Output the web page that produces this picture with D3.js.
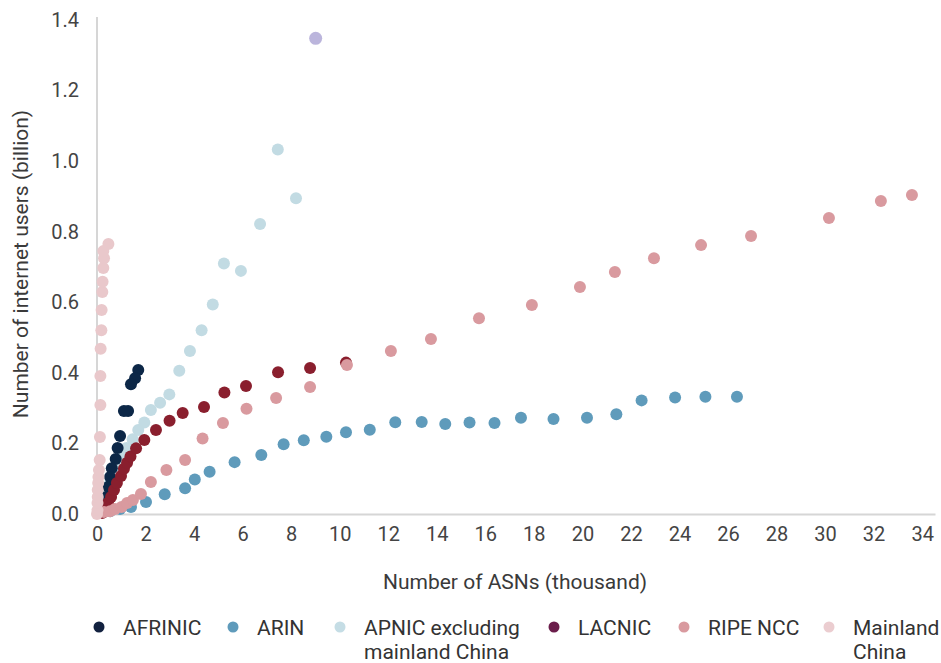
<!DOCTYPE html>
<html>
<head>
<meta charset="utf-8">
<script src="https://cdn.jsdelivr.net/npm/d3@7"></script>
<style>
  html, body { margin: 0; padding: 0; background: #fff; }
  text { font-family: Roboto, "Noto Sans", sans-serif; }
</style>
</head>
<body>
<div class="svg-container"></div>
<script>
// data: [ASNs (thousand), internet users (billion)]
const afrinic = [[1.70,0.408],[1.57,0.385],[1.40,0.368],[1.28,0.292],[1.11,0.292],[0.95,0.221],[0.85,0.187],[0.77,0.156],[0.61,0.130],[0.54,0.105],[0.47,0.077],[0.37,0.048],[0.25,0.026],[0.12,0.011]];
const arin = [[0.25,0.006],[0.54,0.008],[0.95,0.014],[1.40,0.020],[2.02,0.034],[2.79,0.056],[3.63,0.073],[4.03,0.098],[4.64,0.120],[5.67,0.147],[6.77,0.167],[7.69,0.198],[8.52,0.209],[9.45,0.219],[10.26,0.232],[11.24,0.239],[12.29,0.260],[13.38,0.261],[14.35,0.255],[15.35,0.259],[16.38,0.258],[17.47,0.273],[18.81,0.269],[20.19,0.273],[21.40,0.283],[22.44,0.322],[23.82,0.330],[25.07,0.332],[26.37,0.332]];
const apnic = [[0.12,0.011],[0.25,0.031],[0.40,0.060],[0.54,0.088],[0.67,0.106],[0.81,0.139],[1.02,0.162],[1.22,0.187],[1.47,0.212],[1.70,0.238],[1.95,0.259],[2.22,0.295],[2.60,0.315],[2.98,0.339],[3.39,0.406],[3.83,0.462],[4.31,0.521],[4.77,0.594],[5.93,0.689],[5.23,0.710],[6.72,0.822],[8.20,0.895],[7.45,1.033]];
const lacnic = [[0.21,0.003],[0.33,0.014],[0.45,0.031],[0.58,0.048],[0.70,0.068],[0.82,0.088],[0.99,0.108],[1.11,0.128],[1.24,0.145],[1.38,0.163],[1.61,0.186],[1.95,0.210],[2.43,0.238],[2.99,0.264],[3.53,0.286],[4.41,0.303],[5.25,0.344],[6.14,0.363],[7.46,0.402],[8.78,0.414],[10.26,0.429]];
const ripe = [[0.29,0.006],[0.54,0.008],[0.74,0.014],[1.01,0.020],[1.24,0.031],[1.48,0.040],[1.81,0.057],[2.22,0.091],[2.86,0.125],[3.63,0.153],[4.35,0.214],[5.19,0.258],[6.16,0.298],[7.38,0.329],[8.78,0.360],[10.30,0.422],[12.11,0.462],[13.76,0.496],[15.74,0.555],[17.92,0.592],[19.90,0.643],[21.34,0.686],[22.95,0.725],[24.89,0.762],[26.95,0.788],[30.16,0.839],[32.30,0.887],[33.58,0.904]];
const mainland = [[0.0,0.0],[0.02,0.011],[0.02,0.031],[0.03,0.048],[0.03,0.068],[0.05,0.088],[0.06,0.105],[0.08,0.125],[0.11,0.153],[0.12,0.218],[0.14,0.309],[0.14,0.391],[0.15,0.468],[0.18,0.521],[0.19,0.578],[0.22,0.629],[0.23,0.658],[0.26,0.697],[0.29,0.725],[0.26,0.745],[0.47,0.765]];
const extraPoint = [[9.01,1.348]];

const xTicks = [0,2,4,6,8,10,12,14,16,18,20,22,24,26,28,30,32,34];
const yTicks = [0.0,0.2,0.4,0.6,0.8,1.0,1.2,1.4];

const seriesNames = ["AFRINIC", "ARIN", "APNIC excluding mainland China", "LACNIC", "RIPE NCC", "Mainland China"];
const legendLines = [["AFRINIC"], ["ARIN"], ["APNIC excluding", "mainland China"], ["LACNIC"], ["RIPE NCC"], ["Mainland", "China"]];

const width = 941;
const height = 663;

const svg = d3
  .select(".svg-container")
  .append("svg")
  .attr("width", width)
  .attr("height", height);

// scales
const xScale = d3.scaleLinear().domain([0, 34.53]).range([97, 935]);
const yScale = d3.scaleLinear().domain([0, 1.4]).range([514, 20]);

// y axis
const yAxis = svg
  .append("g")
  .attr("transform", "translate(97,0)")
  .call(
    d3.axisLeft(yScale)
      .tickValues(yTicks)
      .tickSize(0)
      .tickPadding(18)
      .tickFormat(d3.format(".1f"))
  );
yAxis.select(".domain").attr("stroke", "#d6d6d6").attr("stroke-width", 2)
  .attr("d", `M0,${yScale(0)}V17`);
yAxis.selectAll("text").attr("fill", "#444").attr("font-size", 20)
  .attr("font-family", "Roboto, sans-serif");

// x axis
const xAxis = svg
  .append("g")
  .attr("transform", `translate(0,${yScale(0)})`)
  .call(
    d3.axisBottom(xScale)
      .tickValues(xTicks)
      .tickSize(0)
      .tickPadding(13)
      .tickFormat(d3.format("d"))
  );
xAxis.select(".domain").attr("stroke", "#d6d6d6").attr("stroke-width", 2);
xAxis.selectAll("text").attr("fill", "#444").attr("font-size", 20)
  .attr("font-family", "Roboto, sans-serif");

// axis titles
svg
  .append("text")
  .attr("x", 515)
  .attr("y", 589)
  .attr("text-anchor", "middle")
  .attr("font-size", 21)
  .attr("fill", "#3a3a3a")
  .text("Number of ASNs (thousand)");

svg
  .append("text")
  .attr("transform", "translate(28,264) rotate(-90)")
  .attr("text-anchor", "middle")
  .attr("font-size", 21)
  .attr("fill", "#3a3a3a")
  .text("Number of internet users (billion)");

// points, drawn in stacking order
const layers = [
  { data: arin, color: "#5f9bbb", r: 6 },
  { data: apnic, color: "#c2dbe3", r: 6 },
  { data: afrinic, color: "#0c2747", r: 6 },
  { data: lacnic, color: "#8a1f2e", r: 6 },
  { data: ripe, color: "#d99a9f", r: 6 },
  { data: mainland, color: "#e9c8cb", r: 6 },
  { data: extraPoint, color: "#bbb5dc", r: 6.5 },
];

layers.forEach((layer) => {
  svg
    .append("g")
    .selectAll("circle")
    .data(layer.data)
    .enter()
    .append("circle")
    .attr("cx", (d) => xScale(d[0]))
    .attr("cy", (d) => yScale(d[1]))
    .attr("r", layer.r)
    .attr("fill", layer.color);
});

// legend
const legendColors = ["#12213f", "#5f9bbb", "#c5dde5", "#6b1e4b", "#d99a9f", "#ebcdd0"];
const legendX = [99, 233, 340, 554, 684, 829];
const legend = svg
  .append("g")
  .selectAll("g")
  .data(seriesNames)
  .enter()
  .append("g")
  .attr("transform", (d, i) => `translate(${legendX[i]},627)`);

legend
  .append("circle")
  .attr("r", 5.5)
  .attr("fill", (d, i) => legendColors[i]);

legend
  .append("text")
  .attr("x", 24)
  .attr("y", 8)
  .attr("font-size", 21)
  .attr("fill", "#333")
  .selectAll("tspan")
  .data((d, i) => legendLines[i])
  .enter()
  .append("tspan")
  .attr("x", 24)
  .attr("dy", (d, j) => (j === 0 ? 0 : 24))
  .text((d) => d);
</script>
</body>
</html>
